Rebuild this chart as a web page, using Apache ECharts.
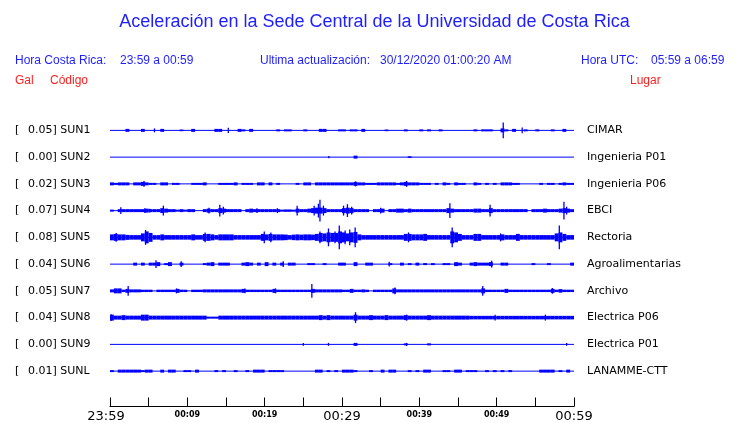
<!DOCTYPE html>
<html><head><meta charset="utf-8">
<script src="https://cdn.jsdelivr.net/npm/echarts@6/dist/echarts.min.js"></script>
<style>html,body{margin:0;padding:0;background:#fff}#c{width:740px;height:423px}</style>
</head><body><div id="c"></div><script>
// ---- data ----
const codes = ['SUN1','SUN2','SUN3','SUN4','SUN5','SUN6','SUN7','SUN8','SUN9','SUNL'];
const places = ['CIMAR','Ingenieria P01','Ingenieria P06','EBCI','Rectoria','Agroalimentarias','Archivo','Electrica P06','Electrica P01','LANAMME-CTT'];
const gal = ['0.05','0.00','0.02','0.07','0.08','0.04','0.05','0.04','0.00','0.01'];
const tickLabels = ['23:59','','00:09','','00:19','','00:29','','00:39','','00:49','','00:59'];
const bigTicks = ['23:59','00:29','00:59'];
// envelope half-amplitudes, one value per half minute (120 bins)
const envSUN1 = [
0,0,0,0,1.5,0,0,0,1.5,0, 0,0,0,1.5,0,0,0,0,0.8,0, 0,1.5,0,0,0,0,0,1.5,1.5,0,
0,0,0,1.5,1,0,1.5,0,0,0, 0,0,0,1,0,1,1,0,0,0, 1,0,0,0,1.5,1.5,0,0,0,1,
1,0,1,1,0,1.5,0,0,0,0, 0,0.8,0,0,0,0,1,0,0,0, 1,0,1,0,0,1,0,0,0,0,
0,0,0,0,1,0,1,1,1,0, 0,2,1,0,1.5,0,0,1,0,0, 1,0,0,0,1,0,0,1.5,0,0];
const envSUN2 = [
0,0,0,0,0,0,0,0,0,0, 0,0,0,0,0,0,0,0,0,0, 0,0,0,0,0,0,0,0,0,0,
0,0,0,0,0,0,0,0,0,0, 0,0,0,0,0,0,0,0,0,0, 0,0,0,0,0,0,0,0,0,0,
0,0,0,1.5,0,0,0,0,0,0, 0,0,0,0,0,0,0,0.8,0,0, 0,0,0,0,0,0,0,0,0,0,
0,0,0,0,0,0,0,0,0,0, 0,0,0,0,0,0,0,0,0,0, 0,0,0,0,0,0,0,0,0,0];
const envSUN3 = [
1.5,1,1.5,1.5,1.5,0,1.5,1.5,2,1.5, 1,1,0,1.5,1.5,0,1,1,0,0, 0,1,1,1,1.5,0,0,0,1,1,
1,1,1.5,0,1,1,1,0,1.5,1.5, 0,1.5,0,1,0,0,0,0,1,0, 1.5,1.5,0,1.5,1.5,1.5,1.5,1.5,1.5,1.5,
1.5,1.5,1.5,2,1.5,1.5,1,1,1,1.5, 1.5,1.5,1.5,1.5,1,1.5,2,1.5,1.5,1.5, 1,1,1,0,1,0,1.5,1,0,1.5,
1,1,0,0,1.5,1,0,1,0,1, 0,1.5,1.5,1.5,1,1,0,0,0,0, 0,1,0,1,1,0,1,1.5,1,1];
const envSUN4 = [
1,0,1.5,1.5,1.5,1.5,1.5,1.5,1.5,2, 1.5,1.5,1.5,2.5,2,1.5,1.5,1,1.5,1, 1.5,1.5,0,0,1.5,2,1.5,1.5,2.5,2,
1.5,1.5,1.5,1.5,0,1.5,2,1.5,1.5,1.5, 1.5,1.5,1.5,1.5,1,1.2,1.2,1,2,1.5, 1.5,2,2.5,3,3,2.5,1.5,1.5,1.5,1.5,
2.5,3,2.5,1.5,1.5,1.5,1.5,0,1.5,1.5, 2,0,1.5,1.5,2,2,1.5,2,1.5,1.5, 1.5,1.5,1.5,1.5,1.5,1.5,1.5,2.5,2,1.5,
1.5,1.5,1.5,1.5,2,2,1.5,1.5,2.5,1.5, 1.5,1.5,1.5,1.5,1.5,1.5,1.5,1.5,0,1.5, 1.5,1.5,2,1.5,1.5,1.5,2,2.5,2,1.5];
const envSUN5 = [
3,3.5,3,3,2.5,2.3,2.3,2.3,4,6, 4.5,2.3,2.3,3,2.3,2.3,2.3,2.3,2.3,2.3, 2.3,3,2.3,2.3,3.5,3.5,3,2.3,3,3,
3,3,2.3,2.3,2.3,2.3,2.3,2.3,2.3,3.5, 3,3.5,3,3,3,2.8,2.3,2.8,3,2.8, 3,3,2.8,3.5,4.5,4,5,4.5,4.5,6,
5,4,5,5.5,3,2.3,2.3,2.3,2.3,2.3, 2.3,2.3,2.3,2.3,2.3,2.3,3.5,3.5,3,3, 3,3.5,2.3,2.3,2.3,2.3,2.3,2.3,6,5,
3.5,2.3,2.3,2.3,3.5,3.5,2.3,2.3,2.3,2.3, 2.3,3,2.3,2.3,2.3,3.5,2.3,2.3,2.3,2.3, 2.3,2.3,2.3,2.3,2.3,4,5,3.5,2.3,2.3];
const envSUN6 = [
0,0,0,0,0,0,1.5,0,1.5,0, 1.5,1.5,2,0,1,2,0,0,1.5,0, 0,0,0,0,1,1.5,2,0,1.5,1.5,
1.5,0,0,0,1.5,2,1.5,0,1.5,0, 2,0,1.5,0,1.5,0,1.5,1.5,0,0, 0,1,1,0,0,1,0,0,0,1.5,
1.5,0,0,2,0,0,1.5,1.5,0,0, 0,0,1,0,0,1.5,0,1,0,1.5, 0,1,0,1,0,0,1,1,0,2,
1.5,0,0,1.5,2,1.5,1.5,1.5,2,0, 0,1.5,1.5,0,0,0,0,0,0,1, 0,0,0,1,0,0,0,0,0,1.5];
const envSUN7 = [
1.5,2.5,2.5,1.2,2,1.5,1.5,1.5,1.2,1.2, 1.2,0,1.2,1.2,1.2,1.2,1.2,2,1.2,1.2, 0,1.2,1.2,1.2,1.5,1.5,1.5,1.5,1.5,1.5,
1.5,1.5,1.5,1.5,2,1.2,1.2,1.2,1.2,1.2, 1.2,1.2,2,1.2,1.2,1.2,1.2,1.2,1.2,1.2, 1.2,1.2,2,1.5,1.5,1.5,1.5,1.5,1.5,1.5,
1.2,1.2,2,1.2,1.2,1.5,1.2,0,1.2,1.2, 1.2,1.2,1.2,2.5,1.5,1.5,1.5,1.5,1.5,1.5, 1.5,1.5,1.5,1.5,1.5,1.5,1.5,1.5,1.5,1.5,
1.5,1.5,1.5,1.5,1.5,1.5,2.5,1.2,1.2,1.2, 1.2,1.2,2,1.2,1.2,1.2,1.2,1.2,1.2,1.2, 1.2,1.2,1.2,1.2,2,1.2,1.8,1.2,1.2,1.2];
const envSUN8 = [
3,2,2,2.5,2,2,2,2,3,3, 2,2,2,2,2,2,2,2,2,2, 2,2,2,2,2,1,1,1,2,2,
2,2,2,2,2,2,2,2,2,2, 2,2,2,2,2,2,2,2,2,2, 2,2,2,2,2.5,2,2.5,2,2,2,
2,2,2,3,2,2,2,2.5,2,2, 2,2.5,2,2,2,2,2.5,2,2,2, 2,2,2.5,2,2,2,2,2,2,2,
2,2,2,1.8,1.8,1.8,1.8,1.8,1.8,1.8, 1.8,1.8,1.8,1.8,1.8,1.8,1.8,1.8,1.8,1.8, 1.8,1.8,1.8,1.8,1.8,1.8,1.8,1.8,1.8,1.8];
const envSUN9 = [
0,0,0,0,0,0,0,0,0,0, 0,0,0,0,0,0,0,0,0,0, 0,0,0,0,0,0,0,0,0,0,
0,0,0,0,0,0,0,0,0,0, 0,0,0,0,0,0,0,0,0,0, 0,0,0,0,0,0,0,0,0,0,
0,0,0,1.5,0,0,0,0,0,0, 0,0,0,0,0,0,1,0,0,0, 0,0,1,0,0,0,0,0,0,0,
0,0,0,0,0,0,0,0,0,0, 0,0,0,0,0,0,0,0,0,0, 0,0,0,0,0,0,0,0,0,0];
const envSUNL = [
1,0,1.5,1.5,1.5,1.5,1.5,1.5,1,1.5, 1.5,0,0,1.5,0,1.5,1.5,0,0,1, 1,0,1.5,0,0,0,0,1,0,1,
0,0,1,0,0,1,0,1.5,1.5,1.5, 0,1,1,1,1,0,0,0,0,0, 0,0,0,1.5,1.5,0,1,0,1,0,
1.5,1.5,1.5,1,0,0,0,1,0,0, 1.5,0,1.5,1.5,0,0,0,1,0,1, 0,1.5,1.5,0,0,0,1,1,0,1.5,
1.5,0,1,1,1,0,0,1,0,1, 0,1,0,1,0,0,0,0,0,0, 0,1.5,1.5,1.5,1.5,0,1,0,1.5,0];
// isolated peaks: [minute, half-amplitude]
const peaksSUN1 = [[5.75,2],[15.3,2.7],[50.85,8],[53.3,3]];
const peaksSUN2 = [[28.3,1.2]];
const peaksSUN3 = [[4.4,3],[31.75,2.5],[38.35,3]];
const peaksSUN4 = [[1.4,3.3],[4.5,2.5],[5.15,2],[6.9,5],[12.8,3],[14.2,6],[14.65,4],[19,2.5],[21.65,2.5],[24.2,5],[26.4,5],[26.95,7],[27.15,11],[27.6,5],[30.2,5],[30.7,6.5],[31.25,4],[35,3],[43.95,7.5],[49.15,6],[58.7,9],[59.05,4]];
const peaksSUN5 = [[0.8,4.5],[4.6,7.5],[12.3,5],[19.95,6],[20.8,5],[27.15,6],[28.25,9],[29.1,6],[29.65,12],[30.4,7],[31,8],[31.7,10],[38.6,5],[44.25,10],[50.5,4],[58.1,12]];
const peaksSUN6 = [[5.95,4],[9.2,3],[22.4,3],[36.1,2.5],[49.35,3.5]];
const peaksSUN7 = [[2.35,5],[8.6,2.5],[17.45,2.5],[21.4,2.5],[26.1,7],[36.85,3.5],[48.2,5],[57.2,3]];
const peaksSUN8 = [[0.15,3.5],[31.75,5.5],[38.35,3],[49.8,3],[56.3,3]];
const peaksSUN9 = [[25,1.5],[28.25,1.5],[38.35,1.5],[59.05,1.5]];
const peaksSUNL = [];

const envs = [envSUN1,envSUN2,envSUN3,envSUN4,envSUN5,envSUN6,envSUN7,envSUN8,envSUN9,envSUNL];
const peaks = [peaksSUN1,peaksSUN2,peaksSUN3,peaksSUN4,peaksSUN5,peaksSUN6,peaksSUN7,peaksSUN8,peaksSUN9,peaksSUNL];

// ---- chart ----
const BLUE = '#0000ff';
const TXTBLUE = '#1e1eff';
const RED = '#ff1e1e';
const SP = 27;      // trace spacing in amplitude units
const BIN = 0.5;    // minutes per envelope bin
const chart = echarts.init(document.getElementById('c'), null, {renderer: 'canvas'});

function makeRender(k) {
  return function (params, api) {
    const t = api.value(0), a = api.value(1), kind = api.value(2);
    const off = k * SP;
    if (kind === 0) {
      const p0 = api.coord([t, off - a]);
      const p1 = api.coord([t + BIN, off + a]);
      return {type: 'rect', shape: {x: p0[0], y: Math.min(p0[1], p1[1]), width: p1[0] - p0[0], height: Math.abs(p1[1] - p0[1])}, style: {fill: BLUE}};
    }
    const q0 = api.coord([t, off - a]);
    const q1 = api.coord([t, off + a]);
    return {type: 'line', shape: {x1: q0[0], y1: q0[1], x2: q1[0], y2: q1[1]}, style: {stroke: BLUE, lineWidth: 1.3}};
  };
}

const series = [];
codes.forEach((c, k) => {
  series.push({type: 'line', silent: true, symbol: 'none', data: [[0, k * SP], [60, k * SP]],
    lineStyle: {color: BLUE, width: 1}, animation: false});
  const data = [];
  envs[k].forEach((a, i) => { if (a > 0) data.push([i * BIN, a, 0]); });
  peaks[k].forEach(p => data.push([p[0], p[1], 1]));
  series.push({type: 'custom', silent: true, clip: false, renderItem: makeRender(k), data: data, animation: false});
});

const hdr = {fontFamily: 'Liberation Sans', fontSize: 12};
function txt(x, y, s, color, extra) {
  return Object.assign({type: 'text', x: x, y: y, style: Object.assign({text: s, fill: color, verticalAlign: 'middle', align: 'left'}, hdr, extra || {})});
}

chart.setOption({
  backgroundColor: '#fff',
  animation: false,
  grid: {left: 110, right: 166, top: 117, height: 270},
  xAxis: {
    type: 'value', min: 0, max: 60, interval: 5, offset: 22,
    axisLine: {show: true, onZero: false, lineStyle: {color: '#000', width: 1}},
    axisTick: {show: true, inside: true, length: 9, lineStyle: {color: '#000', width: 1}},
    splitLine: {show: false},
    axisLabel: {
      margin: 3, showMinLabel: true, showMaxLabel: true,
      formatter: (v, idx) => {
        const s = tickLabels[Math.round(v / 5)] || '';
        if (!s) return '';
        if (v === 0) return '{f|' + s + '}';
        return bigTicks.includes(s) ? '{b|' + s + '}' : '{s|' + s + '}';
      },
      rich: {
        f: {fontFamily: 'DejaVu Sans', fontSize: 13, color: '#000', lineHeight: 14, padding: [0, 8, 0, 0]},
        b: {fontFamily: 'DejaVu Sans', fontSize: 13, color: '#000', lineHeight: 14},
        s: {fontFamily: 'DejaVu Sans', fontSize: 8, fontWeight: 'bold', color: '#000', lineHeight: 10}
      }
    }
  },
  yAxis: [
    {type: 'value', min: -SP / 2, max: SP * 9.5, inverse: true, show: false},
    {type: 'category', data: codes, position: 'left', inverse: true,
      axisLine: {show: false}, axisTick: {show: false}, splitLine: {show: false},
      axisLabel: {margin: 95, align: 'left', interval: 0,
        formatter: (v, i) => '{o|[}{n|' + gal[i] + '] ' + v + '}',
        rich: {o: {width: 13, fontFamily: 'DejaVu Sans', fontSize: 11, color: '#000'},
               n: {fontFamily: 'DejaVu Sans', fontSize: 11, color: '#000'}}}},
    {type: 'category', data: places, position: 'right', inverse: true,
      axisLine: {show: false}, axisTick: {show: false}, splitLine: {show: false},
      axisLabel: {margin: 13, align: 'left', interval: 0, fontFamily: 'DejaVu Sans', fontSize: 11, color: '#000'}}
  ],
  series: series,
  graphic: [
    {type: 'text', x: 374.5, y: 22, style: {text: 'Aceleración en la Sede Central de la Universidad de Costa Rica', fill: TXTBLUE, fontFamily: 'Liberation Sans', fontSize: 18, align: 'center', verticalAlign: 'middle'}},
    txt(15, 61, 'Hora Costa Rica:', TXTBLUE),
    txt(120, 61, '23:59 a 00:59', TXTBLUE),
    txt(260, 61, 'Ultima actualización:', TXTBLUE),
    txt(380, 61, '30/12/2020 01:00:20 AM', TXTBLUE),
    txt(581, 61, 'Hora UTC:', TXTBLUE),
    txt(651, 61, '05:59 a 06:59', TXTBLUE),
    txt(15, 81, 'Gal', RED),
    txt(50, 81, 'Código', RED),
    txt(630, 81, 'Lugar', RED)
  ]
});
</script></body></html>
